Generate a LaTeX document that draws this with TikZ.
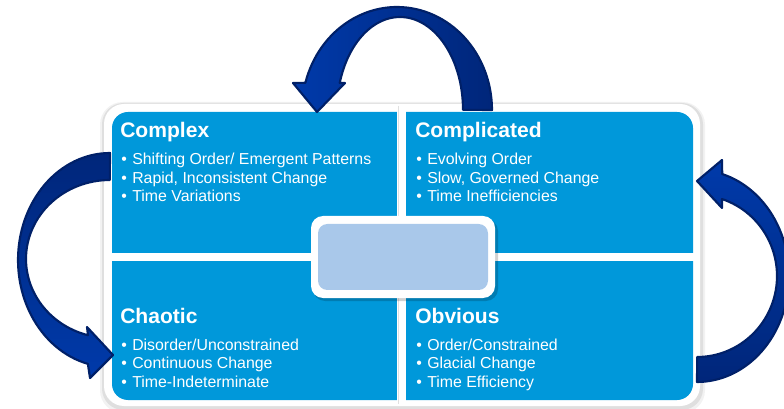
\documentclass[tikz,border=0pt]{standalone}
\usepackage{fontspec}
\setmainfont{Liberation Sans}
\definecolor{qblue}{RGB}{0,152,218}
\definecolor{cblue}{RGB}{169,200,234}
\definecolor{abright}{RGB}{0,58,170}
\definecolor{adark}{RGB}{0,38,122}
\definecolor{aline}{RGB}{0,32,104}
\tikzset{
  qtitle/.style={anchor=base west, inner sep=0pt, text=white, font=\fontsize{15.8}{18}\selectfont\bfseries},
  qitem/.style={anchor=base west, inner sep=0pt, text=white, font=\fontsize{11.9}{14}\selectfont},
  bigarrow/.style={draw=aline, line width=1.6pt, line join=round},
}
\newcommand{\quadtext}[7]{%
  \node[qtitle] (#1) at (#2,#3) {#4};
  \node[qitem] (#1-a) at (#2+1,#3+27) {\makebox[8.25pt][l]{\textbullet}#5};
  \node[qitem] (#1-b) at (#2+1,#3+45.7) {\makebox[8.25pt][l]{\textbullet}#6};
  \node[qitem] (#1-c) at (#2+1,#3+64) {\makebox[8.25pt][l]{\textbullet}#7};
}
\begin{document}
\begin{tikzpicture}[x=0.75pt,y=-0.75pt]
\useasboundingbox (0,0) rectangle (784,409);
\clip (0,0) rectangle (784,409);
% outer white frame with soft shadow
\fill[black, opacity=0.05, rounded corners=17pt] (100,102) rectangle (705,413);
\fill[black, opacity=0.08, rounded corners=16pt] (102,103) rectangle (703,410);
\fill[white, rounded corners=15pt] (104,104) rectangle (700,406);
% blue quadrants
\fill[qblue, rounded corners=12pt] (112,112) rectangle (693,400);
\fill[white] (397,106) rectangle (406,404);
\fill[white] (106,253) rectangle (698,261);
\draw[black!12, line width=0.8pt] (398.5,106) -- (398.5,404);
% center box
\fill[black, opacity=0.18, rounded corners=9pt] (313,219) rectangle (498,301);
\fill[white, rounded corners=9pt] (311,216) rectangle (495,298);
\fill[cblue, rounded corners=7pt] (318,224) rectangle (488,290);
% texts
\quadtext{complex}{120}{138}{Complex}{Shifting Order/ Emergent Patterns}{Rapid, Inconsistent Change}{Time Variations}
\quadtext{complicated}{415}{138}{Complicated}{Evolving Order}{Slow, Governed Change}{Time Inefficiencies}
\quadtext{chaotic}{120}{323}{Chaotic}{Disorder/Unconstrained}{Continuous Change}{Time-Indeterminate}
\quadtext{obvious}{415}{323}{Obvious}{Order/Constrained}{Glacial Change}{Time Efficiency}
% top arrow
\path[bigarrow, left color=abright, right color=adark]
  plot[domain=0:1, samples=60] ({397+95*cos(360-164.8*\x)},{110+103*sin(360-164.8*\x)})
  -- (293,83) -- (317,112) -- (345,83)
  -- plot[domain=0:1, samples=60] ({400+63*cos(196.9+163.1*\x)},{110+93*sin(196.9+163.1*\x)})
  -- cycle;
% left arrow
\path[bigarrow, top color=adark, bottom color=abright]
  plot[domain=0:1, samples=60] ({110+92*cos(270-166.2*\x)},{260+107*sin(270-166.2*\x)})
  -- (90,378) -- (113,355) -- (87,327)
  -- plot[domain=0:1, samples=60] ({110+84*cos(105.2+164.8*\x)},{259+79*sin(105.2+164.8*\x)})
  -- cycle;
% right arrow
\path[bigarrow, top color=abright, bottom color=adark]
  plot[domain=0:1, samples=60] ({697+92*cos(90-164.2*\x)},{276+106*sin(90-164.2*\x)})
  -- (722,160) -- (697,181) -- (722,208)
  -- plot[domain=0:1, samples=60] ({697+80*cos(-71.8+161.8*\x)},{276+81*sin(-71.8+161.8*\x)})
  -- cycle;
\end{tikzpicture}
\end{document}
